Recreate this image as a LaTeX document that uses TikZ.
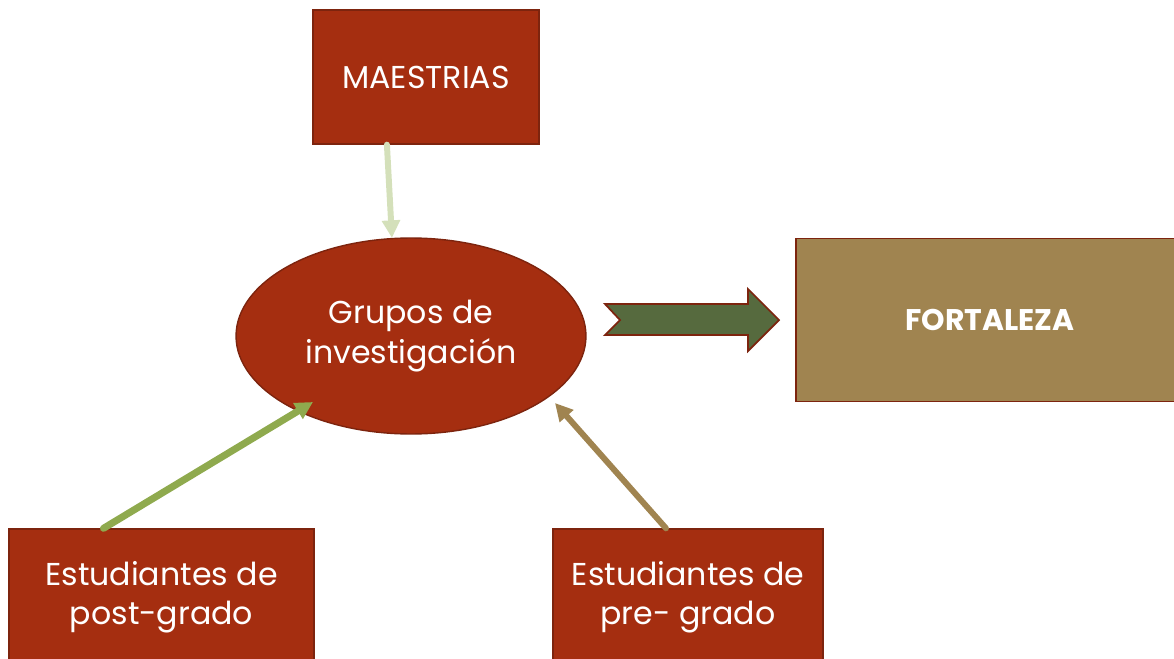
\documentclass[tikz,border=0pt]{standalone}
\usepackage{fontspec}
\setmainfont{Poppins}
\usetikzlibrary{shapes.geometric,arrows.meta,calc}
\definecolor{ladrillo}{RGB}{165,46,16}
\definecolor{borde}{RGB}{125,36,14}
\definecolor{arena}{RGB}{160,132,80}
\definecolor{musgo}{RGB}{86,106,62}
\definecolor{verdeclaro}{RGB}{212,224,186}
\definecolor{oliva}{RGB}{143,170,78}
\begin{document}
\begin{tikzpicture}[x=0.02cm,y=-0.02cm,
  caja/.style={draw=borde,fill=ladrillo,text=white,line width=0.8pt,align=center,inner sep=0pt,font=\fontsize{18}{22.5}\selectfont},
  flecha/.style={line width=3.4pt,line cap=round,-{Triangle[length=10pt,width=10pt]}}]
\useasboundingbox (0,0) rectangle (1174,659);
\node[caja,minimum width=4.52cm,minimum height=2.68cm] (mae) at (426,77) {MAESTRIAS};
\node[caja,ellipse,minimum width=7cm,minimum height=3.92cm] (grp) at (411,336) {Grupos de\\investigación};
\node[caja,fill=arena,minimum width=7.76cm,minimum height=3.26cm,font=\fontsize{17}{21.5}\selectfont\bfseries] (fort) at (990,320) {FORTALEZA};
\node[caja,minimum width=6.1cm,minimum height=2.72cm] (post) at (161.5,597) {Estudiantes de\\post-grado};
\node[caja,minimum width=5.4cm,minimum height=2.72cm] (pre) at (688,597) {Estudiantes de\\pre- grado};
% flecha gruesa hacia la fortaleza
\draw[draw=borde,fill=musgo,line width=1pt] (605,304) -- (748,304) -- (748,289) -- (779,320) -- (748,351) -- (748,335) -- (605,335) -- (620,320) -- cycle;
\draw[flecha,verdeclaro] (mae.240) -- (grp.101);
\draw[flecha,oliva,line width=4pt] ($(post.north)+(-58,0)$) -- ($(grp.center)+(-98,66)$);
\draw[flecha,arena] ($(pre.north)+(-22,0)$) -- ($(grp.center)+(144,67)$);
\end{tikzpicture}
\end{document}
